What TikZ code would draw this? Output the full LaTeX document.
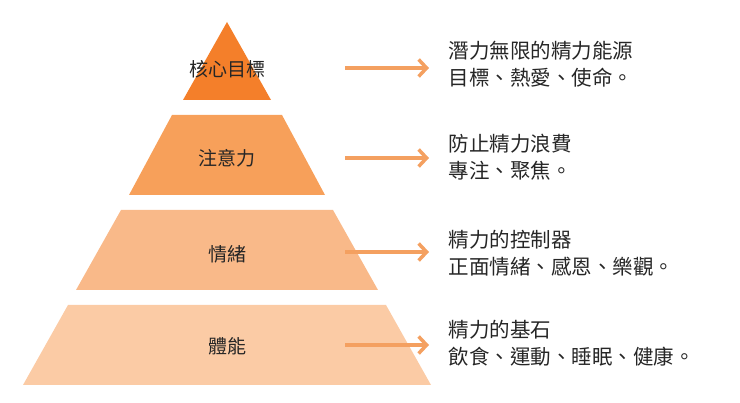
\documentclass[tikz,border=0pt]{standalone}
\usepackage{fontspec}
\setmainfont{Noto Sans CJK TC}
\usepackage{xcolor}
\definecolor{layerA}{HTML}{F47F2A}
\definecolor{layerB}{HTML}{F7A05A}
\definecolor{layerC}{HTML}{F9B989}
\definecolor{layerD}{HTML}{FBCBA5}
\definecolor{arrowcol}{HTML}{F4A060}
\usetikzlibrary{arrows.meta}

\begin{document}
\begin{tikzpicture}[x=1pt,y=-1pt]
\tikzstyle{level} = [font=\fontsize{19}{22}\selectfont, text=black!85]
\tikzstyle{desc} = [font=\fontsize{20.5}{27}\selectfont, text=black!85, align=left, anchor=west]
\tikzstyle{pointer} = [-{Straight Barb[length=8pt,width=17pt]}, arrowcol, line width=3.5pt]

\useasboundingbox (0,0) rectangle (740,403);

\fill[layerA] (227,22) -- (271,100) -- (183,100) -- cycle;
\fill[layerB] (172,115) -- (282,115) -- (325,195) -- (129,195) -- cycle;
\fill[layerC] (121,210) -- (333,210) -- (378,290) -- (76,290) -- cycle;
\fill[layerD] (68,305) -- (386,305) -- (431,385) -- (23,385) -- cycle;

\node(topLabel) [level] at (227,69) {核心目標};
\node(focusLabel) [level] at (227,158) {注意力};
\node(emotionLabel) [level] at (227,254) {情緒};
\node(bodyLabel) [level] at (227,346) {體能};

\node(topDesc) [desc] at (445,64) {潛力無限的精力能源\\目標、熱愛、使命。};
\node(focusDesc) [desc] at (445,157) {防止精力浪費\\專注、聚焦。};
\node(emotionDesc) [desc] at (445,253) {精力的控制器\\正面情緒、感恩、樂觀。};
\node(bodyDesc) [desc] at (445,343) {精力的基石\\飲食、運動、睡眠、健康。};

\coordinate(topStart) at (345,68);
\coordinate(focusStart) at (345,158);
\coordinate(emotionStart) at (345,252);
\coordinate(bodyStart) at (345,345);
\draw[pointer] (topStart) -- (topStart -| 429,0);
\draw[pointer] (focusStart) -- (focusStart -| 429,0);
\draw[pointer] (emotionStart) -- (emotionStart -| 429,0);
\draw[pointer] (bodyStart) -- (bodyStart -| 429,0);
\end{tikzpicture}
\end{document}
